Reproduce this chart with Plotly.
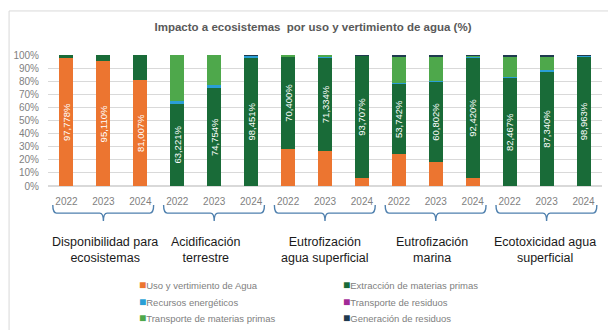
import plotly.graph_objects as go

# ---- data -------------------------------------------------------------
groups = [
    "Disponibilidad para<br>ecosistemas",
    "Acidificación<br>terrestre",
    "Eutrofización<br>agua superficial",
    "Eutrofización<br>marina",
    "Ecotoxicidad agua<br>superficial",
]
years = ["2022", "2023", "2024"]

# share (%) of each source, one value per (group, year) bar
uso_agua = [97.778, 95.110, 81.007, 0, 0, 0, 28.4, 26.8, 6.0, 24.3, 18.6, 5.9, 0, 0, 0]
extraccion_mp = [2.222, 4.890, 18.993, 63.221, 74.754, 98.451, 70.400, 71.334, 93.707,
                 53.742, 60.802, 92.420, 82.467, 87.340, 98.963]
recursos_energeticos = [0, 0, 0, 1.5, 2.0, 0.8, 0, 0.3, 0, 0.4, 0.9, 0.4, 0.8, 1.4, 0.5]
transporte_residuos = [0] * 15
transporte_mp = [0, 0, 0, 35.279, 23.246, 0.7, 1.2, 1.566, 0.2, 20.1, 17.9, 1.2, 15.5, 10.0, 0.4]
generacion_residuos = [0, 0, 0, 0, 0, 0.049, 0, 0, 0.093, 1.458, 1.798, 0.08, 1.233, 1.26, 0.137]

# which series carries the value label in each bar
labelled_uso = [True, True, True] + [False] * 12
labelled_ext = [False, False, False] + [True] * 12

series = [
    ("Uso y vertimiento de Agua", uso_agua, "#EC7530", labelled_uso),
    ("Extracción de materias primas", extraccion_mp, "#196B38", labelled_ext),
    ("Recursos energéticos", recursos_energeticos, "#2A9FD6", None),
    ("Transporte de residuos", transporte_residuos, "#A12A96", None),
    ("Transporte de materias primas", transporte_mp, "#4EA84B", None),
    ("Generación de residuos", generacion_residuos, "#1F3A4F", None),
]

# ---- geometry -----------------------------------------------------------
W, H = 608, 330
ML, MR, MT, MB = 47.5, 5.5, 55.4, 144
PW, PH = W - ML - MR, H - MT - MB


def px_x(p):
    return (p - ML) / PW


def px_y(p):
    return (H - MB - p) / PH


categories = [f"{g.replace('<br>', ' ')} {y}" for g in groups for y in years]
ticktext = [y for _ in groups for y in years]


def fmt(v):
    return f"{v:.3f}%".replace(".", ",")


fig = go.Figure()
for name, vals, color, lab in series:
    text = [fmt(v) if (lab and lab[i]) else "" for i, v in enumerate(vals)]
    fig.add_trace(go.Bar(
        name=name, x=categories, y=vals, marker=dict(color=color, line=dict(width=0)),
        text=text, textposition="inside", insidetextanchor="middle", textangle=-90,
        textfont=dict(color="white", size=9.5, family="Liberation Sans"),
        hoverinfo="skip", showlegend=False,
    ))

# ---- braces and group names under the year labels ----------------------
brace_color = "#4F80AE"
y_top, y_mid, y_bot = px_y(205), px_y(213), px_y(221)
label_shift = [2, -8, 0, -4, -2]
for gi, g in enumerate(groups):
    x0, xc, x1 = gi * 3 - 0.37, gi * 3 + 1, gi * 3 + 2 + 0.36
    r = 0.1
    path = (f"M {x0},{y_top} Q {x0},{y_mid} {x0 + r},{y_mid} L {xc - r},{y_mid} "
            f"Q {xc},{y_mid} {xc},{y_bot} Q {xc},{y_mid} {xc + r},{y_mid} "
            f"L {x1 - r},{y_mid} Q {x1},{y_mid} {x1},{y_top}")
    fig.add_shape(type="path", path=path, xref="x", yref="paper",
                  line=dict(color=brace_color, width=1.4))
    fig.add_annotation(text=g, x=xc, xref="x", y=px_y(233), yref="paper",
                       yanchor="top", showarrow=False, xshift=label_shift[gi],
                       font=dict(size=12.5, color="#1a1a1a", family="Liberation Sans"))

# ---- key: two columns, three rows ---------------------------------------
key_cols = [140, 344]
key_rows = [285, 301.5, 318]
for i, (name, _, color, _) in enumerate(series):
    cx = key_cols[i % 2]
    cy = key_rows[i // 2]
    fig.add_annotation(
        text=f'<span style="color:{color};font-size:12px">■</span>{name}',
        x=px_x(cx - 3), xref="paper", xanchor="left",
        y=px_y(cy), yref="paper", yanchor="middle", showarrow=False,
        font=dict(size=9.5, color="#808080", family="Liberation Sans"))

# outer frame of the chart
fig.add_shape(type="rect", xref="paper", yref="paper",
              x0=px_x(8.5), x1=px_x(612), y0=px_y(11.5), y1=px_y(340),
              line=dict(color="#d9d9d9", width=1), fillcolor="rgba(0,0,0,0)", layer="below")

fig.update_layout(
    width=W, height=H,
    margin=dict(l=ML, r=MR, t=MT, b=MB),
    paper_bgcolor="white", plot_bgcolor="white",
    barmode="stack", bargap=0.62,
    uniformtext=dict(minsize=9.5, mode="show"),
    font=dict(family="Liberation Sans", color="#7f7f7f"),
    title=dict(text="Impacto a ecosistemas  por uso y vertimiento de agua (%)",
               x=313 / W, xanchor="center", xref="container",
               y=1 - 27 / H, yanchor="middle", yref="container",
               font=dict(size=11.5, color="#595959", family="Liberation Sans", weight="bold")),
    xaxis=dict(type="category", tickvals=categories, ticktext=ticktext,
               tickfont=dict(size=10, color="#7f7f7f"), ticks="", showgrid=False,
               showline=False, ticklabelstandoff=8),
    yaxis=dict(range=[0, 100], dtick=10, ticksuffix="%", showgrid=True,
               gridcolor="#d9d9d9", gridwidth=1, zeroline=True, zerolinecolor="#d9d9d9",
               tickfont=dict(size=10, color="#7f7f7f"), ticks="", ticklabelstandoff=8),
    showlegend=False,
)

fig.write_html("out.html")
